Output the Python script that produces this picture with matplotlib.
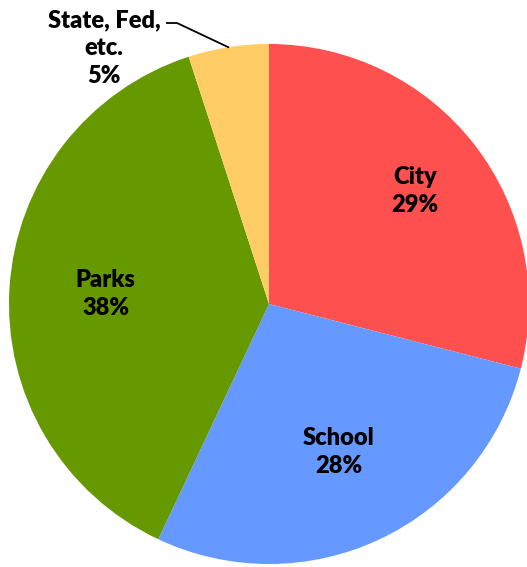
import matplotlib.pyplot as plt
import numpy as np

categories = ["City", "School", "Parks", "State, Fed,\netc."]
shares = [29, 28, 38, 5]
colors = ["#FF5050", "#6699FF", "#669900", "#FFCC66"]

W, H = 527, 567
fig = plt.figure(figsize=(W / 100, H / 100), dpi=100)
ax = fig.add_axes([0, 0, 1, 1])

cx, cy, r = 269, H - 304, 260
wedges, _ = ax.pie(shares, colors=colors, startangle=90, counterclock=False,
                   center=(cx, cy), radius=r, frame=True,
                   wedgeprops=dict(linewidth=0))
ax.set_xlim(0, W)
ax.set_ylim(0, H)
ax.set_aspect("equal")
ax.axis("off")

font = dict(family=["Lato", "DejaVu Sans"], fontweight="heavy", fontsize=17,
            ha="center", va="center", linespacing=1.32)

# label distances inside the wedges (fraction of radius)
dist = [0.71, 0.63, 0.63]
for w, cat, s, d in zip(wedges[:3], categories[:3], shares[:3], dist):
    mid = np.deg2rad((w.theta1 + w.theta2) / 2)
    ax.text(cx + d * r * np.cos(mid), cy + d * r * np.sin(mid),
            f"{cat}\n{s}%", **font)

# small slice: label outside with a leader line
w = wedges[3]
mid = np.deg2rad((w.theta1 + w.theta2) / 2)
ex, ey = cx + r * np.cos(mid), cy + r * np.sin(mid)
ax.text(104, H - 48, f"{categories[3]}\n{shares[3]}%", **font)
ax.plot([167, 177, ex], [H - 23, H - 23, ey], color="black", lw=1.3)

fig.savefig("out.png", dpi=100)
